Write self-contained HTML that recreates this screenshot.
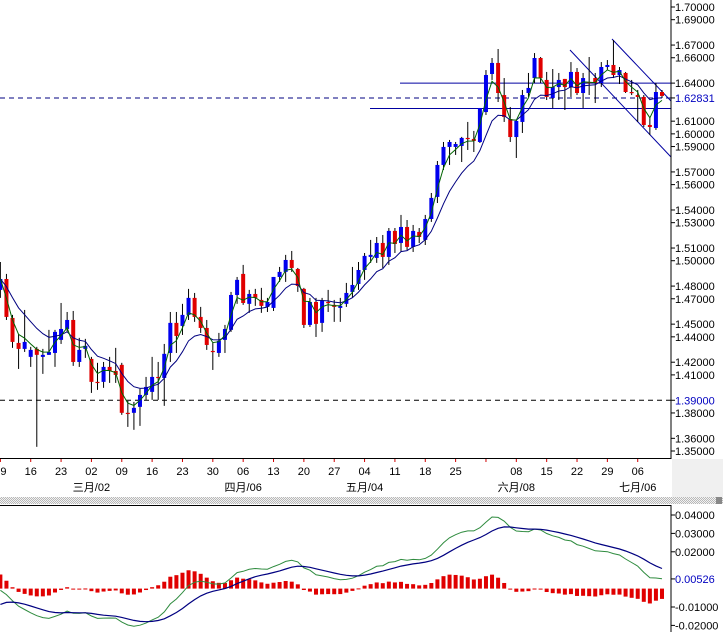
<!DOCTYPE html>
<html><head><meta charset="utf-8">
<style>
html,body{margin:0;padding:0;background:#fff;}
svg{display:block;font-family:"Liberation Sans","Noto Sans CJK SC",sans-serif;}
</style></head>
<body>
<svg id="chart" width="723" height="632" viewBox="0 0 723 632" xmlns="http://www.w3.org/2000/svg">
<defs>
<pattern id="dots" width="2" height="2" patternUnits="userSpaceOnUse">
<rect width="2" height="2" fill="#f2f2f2"/><rect width="1" height="1" fill="#b8b8b8"/><rect x="1" y="1" width="1" height="1" fill="#b8b8b8"/>
</pattern>
<clipPath id="mainClip"><rect x="0" y="0" width="671" height="458"/></clipPath>
<clipPath id="macdClip"><rect x="0" y="506" width="671" height="126"/></clipPath>
</defs>
<rect x="0" y="0" width="723" height="632" fill="#fff"/>
<g id="main" clip-path="url(#mainClip)"></g>
<g id="macd" clip-path="url(#macdClip)"></g>
<g id="axes"></g>
</svg>
<script>
const opens  =[1.4770,1.4856,1.4549,1.4352,1.4305,1.4242,1.4305,1.4242,1.4258,1.4273,1.4376,1.4462,1.4533,1.4202,1.4305,1.4226,1.4045,1.4045,1.4163,1.4131,1.4179,1.3801,1.3801,1.3848,1.3942,1.3966,1.4084,1.4076,1.4273,1.4510,1.4486,1.4573,1.4707,1.4557,1.4470,1.4289,1.4273,1.4376,1.4455,1.4730,1.4896,1.4660,1.4738,1.4691,1.4636,1.4628,1.4872,1.4912,1.5006,1.4935,1.4778,1.4494,1.4675,1.4510,1.4675,1.4652,1.4628,1.4660,1.4754,1.4817,1.4927,1.5030,1.5022,1.5140,1.5030,1.5235,1.5140,1.5266,1.5109,1.5227,1.5164,1.5329,1.5503,1.5755,1.5897,1.5897,1.5905,1.5968,1.5960,1.5936,1.6172,1.6472,1.6559,1.6306,1.6117,1.5975,1.6094,1.6322,1.6440,1.6598,1.6425,1.6283,1.6369,1.6433,1.6369,1.6488,1.6322,1.6409,1.6440,1.6401,1.6527,1.6543,1.6464,1.6480,1.6330,1.6306,1.6291,1.6070,1.6046,1.6330];
const highs  =[1.4990,1.4896,1.4573,1.4423,1.4612,1.4321,1.4321,1.4305,1.4455,1.4455,1.4667,1.4596,1.4604,1.4392,1.4384,1.4242,1.4195,1.4202,1.4242,1.4313,1.4195,1.3895,1.3887,1.3990,1.4084,1.4242,1.4202,1.4344,1.4596,1.4596,1.4660,1.4778,1.4746,1.4636,1.4533,1.4352,1.4431,1.4494,1.4754,1.4872,1.4967,1.4770,1.4778,1.4786,1.4707,1.4872,1.4951,1.5046,1.5077,1.4943,1.4786,1.4707,1.4707,1.4707,1.4770,1.4691,1.4707,1.4825,1.4951,1.4990,1.5061,1.5164,1.5187,1.5203,1.5258,1.5258,1.5361,1.5321,1.5282,1.5258,1.5361,1.5534,1.5786,1.5936,1.5952,1.5936,1.5976,1.6094,1.6023,1.6204,1.6503,1.6598,1.6669,1.6440,1.6212,1.6109,1.6346,1.6480,1.6637,1.6606,1.6488,1.6511,1.6480,1.6433,1.6566,1.6519,1.6480,1.6606,1.6480,1.6566,1.6582,1.6740,1.6527,1.6488,1.6425,1.6346,1.6306,1.6133,1.6401,1.6346];
const lows   =[1.4707,1.4533,1.4313,1.4147,1.4281,1.4163,1.3533,1.4108,1.4258,1.4163,1.4344,1.4439,1.4171,1.4163,1.4234,1.3958,1.3982,1.3998,1.4037,1.4037,1.3785,1.3690,1.3667,1.3698,1.3903,1.3903,1.3903,1.3856,1.4202,1.4273,1.4415,1.4533,1.4518,1.4431,1.4297,1.4139,1.4242,1.4273,1.4439,1.4660,1.4652,1.4589,1.4644,1.4589,1.4596,1.4604,1.4833,1.4833,1.4912,1.4754,1.4470,1.4478,1.4399,1.4439,1.4596,1.4518,1.4518,1.4636,1.4707,1.4770,1.4849,1.4983,1.4983,1.4943,1.4967,1.5061,1.5069,1.5085,1.5069,1.5140,1.5124,1.5306,1.5455,1.5715,1.5755,1.5834,1.5778,1.5873,1.5857,1.5928,1.6149,1.6425,1.6251,1.6094,1.5936,1.5810,1.6007,1.6291,1.6401,1.6401,1.6267,1.6204,1.6267,1.6188,1.6291,1.6306,1.6204,1.6306,1.6243,1.6369,1.6503,1.6440,1.6393,1.6322,1.6306,1.6094,1.6054,1.5991,1.6031,1.6283];
const closes =[1.4856,1.4557,1.4360,1.4305,1.4360,1.4297,1.4258,1.4258,1.4281,1.4439,1.4462,1.4533,1.4202,1.4297,1.4329,1.4045,1.4037,1.4163,1.4131,1.4100,1.3801,1.3797,1.3840,1.3942,1.4005,1.4084,1.4076,1.4266,1.4510,1.4407,1.4573,1.4707,1.4557,1.4470,1.4336,1.4281,1.4368,1.4462,1.4730,1.4849,1.4667,1.4738,1.4707,1.4644,1.4675,1.4872,1.4912,1.5006,1.4943,1.4801,1.4494,1.4675,1.4502,1.4683,1.4671,1.4636,1.4644,1.4746,1.4809,1.4927,1.5038,1.5046,1.5140,1.5030,1.5235,1.5132,1.5266,1.5109,1.5235,1.5187,1.5329,1.5495,1.5755,1.5897,1.5936,1.5920,1.5968,1.5964,1.5944,1.6204,1.6464,1.6559,1.6322,1.6133,1.5975,1.6102,1.6306,1.6362,1.6598,1.6440,1.6291,1.6369,1.6425,1.6369,1.6488,1.6322,1.6440,1.6405,1.6401,1.6527,1.6543,1.6464,1.6503,1.6330,1.6326,1.6291,1.6070,1.6054,1.6330,1.6299];
const priceTicks=[1.70,1.69,1.67,1.66,1.64,1.61,1.60,1.59,1.57,1.56,1.54,1.53,1.51,1.50,1.48,1.47,1.45,1.44,1.42,1.41,1.38,1.36,1.35];
const markedPrices=[1.62831,1.39];
const supportLevels=[1.64,1.62];
const weekLabels=["09","16","23","02","09","16","23","30","06","13","20","27","04","11","18","25","","08","15","22","29","06"];
const monthLabels=["三月/02","四月/06","五月/04","六月/08","七月/06"];
const monthIdx=[15,40,60,85,105];
const macdTicks=[0.04,0.03,0.02,-0.01,-0.02];
const macdMarked=[0.00526];
const macdStart=[-0.001];
const signalStart=[-0.0105];

const NS="http://www.w3.org/2000/svg";
const N=closes.length, STEP=6.07, LASTX=662, AXX=671;
function xs(i){return LASTX-(N-1-i)*STEP;}
function ys(p){return 7+(1.70-p)*1268.6;}
function ym(v){return 588.6-v*1840;}
function el(tag,attrs,parent){const e=document.createElementNS(NS,tag);for(const k in attrs)e.setAttribute(k,attrs[k]);parent.appendChild(e);return e;}
function ema(arr,n,seed){const a=2/(n+1);const out=[];let v=(seed===undefined)?arr[0]:seed;for(let i=0;i<arr.length;i++){v=(i||seed!==undefined)?v+a*(arr[i]-v):arr[i];out.push(v);}return out;}
function pathOf(vals,f){return vals.map((v,i)=>(i?"L":"M")+xs(i).toFixed(1)+" "+f(v).toFixed(1)).join("");}

const main=document.getElementById("main"), macdG=document.getElementById("macd"), axes=document.getElementById("axes");

let l;
l=el("line",{x1:0,x2:AXX,y1:ys(markedPrices[0]),y2:ys(markedPrices[0]),stroke:"#000080","stroke-width":1,"stroke-dasharray":"5,4"},main);

l=el("line",{x1:0,x2:AXX,y1:ys(markedPrices[1]),y2:ys(markedPrices[1]),stroke:"#000","stroke-width":1,"stroke-dasharray":"5,4"},main);

l=el("line",{x1:400,x2:AXX,y1:ys(supportLevels[0]),y2:ys(supportLevels[0]),stroke:"#0000a0","stroke-width":1},main);

l=el("line",{x1:370,x2:AXX,y1:ys(supportLevels[1]),y2:ys(supportLevels[1]),stroke:"#0000a0","stroke-width":1},main);

l=el("line",{x1:570,y1:50,x2:AXX,y2:157,stroke:"#0000a0","stroke-width":1},main);

l=el("line",{x1:612,y1:39,x2:AXX,y2:101,stroke:"#0000a0","stroke-width":1},main);


for(let i=0;i<N;i++){
  const x=xs(i), up=closes[i]>=opens[i];
  const g=el("g",{},main);
  
  
  el("line",{x1:x,x2:x,y1:ys(highs[i]),y2:ys(lows[i]),stroke:"#000","stroke-width":1},g);
  const t=ys(Math.max(opens[i],closes[i])), b=ys(Math.min(opens[i],closes[i]));
  el("rect",{x:x-2,y:t,width:4,height:Math.max(1.2,b-t),fill:up?"#0000ee":"#e00000"},g);
}
const maFast=ema(closes,3), maSlow=ema(closes,9);
l=el("path",{d:pathOf(maSlow,ys),fill:"none",stroke:"#000080","stroke-width":1},main);

l=el("path",{d:pathOf(maFast,ys),fill:"none",stroke:"#006400","stroke-width":1},main);


const e12=ema(closes,12,closes[0]), e26=ema(closes,26,closes[0]-macdStart[0]);
const macdLine=closes.map((c,i)=>e12[i]-e26[i]);
const signal=ema(macdLine,9,signalStart[0]);
for(let i=0;i<N;i++){
  const v=macdLine[i]-signal[i]; const y0=ym(0), y1=ym(v);
  const r=el("rect",{x:xs(i)-2,y:Math.min(y0,y1),width:4,height:Math.max(1,Math.abs(y1-y0)),fill:"#e00000"},macdG);
  
  
}
l=el("path",{d:pathOf(macdLine,ym),fill:"none",stroke:"#2e8b3e","stroke-width":1},macdG);

l=el("path",{d:pathOf(signal,ym),fill:"none",stroke:"#000080","stroke-width":1.2},macdG);


l=el("rect",{x:AXX+1,y:459,width:52,height:38,fill:"#f0f0f0"},axes);

l=el("rect",{x:0,y:497,width:723,height:7,fill:"url(#dots)"},axes);

l=el("rect",{x:716,y:497,width:6,height:7,fill:"#888"},axes);

l=el("line",{x1:AXX,x2:AXX,y1:0,y2:459,stroke:"#000","stroke-width":1},axes);

l=el("line",{x1:0,x2:AXX,y1:458.5,y2:458.5,stroke:"#000","stroke-width":1},axes);

l=el("line",{x1:0,x2:AXX,y1:505.5,y2:505.5,stroke:"#000","stroke-width":1},axes);

l=el("line",{x1:AXX,x2:AXX,y1:505,y2:632,stroke:"#000","stroke-width":1},axes);


function yLabel(v,y,color,name){
  el("line",{x1:AXX,x2:AXX+4,y1:y,y2:y,stroke:"#000"},axes);
  const t=el("text",{x:AXX+4,y:y+4,"font-size":11,fill:color},axes);
  t.textContent=v;
  
  
}
priceTicks.forEach(p=>yLabel(p.toFixed(5),ys(p),"#000","price-tick-label"));
yLabel(markedPrices[0].toFixed(5),ys(markedPrices[0]),"#0000c0","current-price-label");
yLabel(markedPrices[1].toFixed(5),ys(markedPrices[1]),"#0000c0","marked-price-label");
macdTicks.forEach(v=>yLabel(v.toFixed(5),ym(v),"#000","macd-tick-label"));
macdMarked.forEach(v=>yLabel(v.toFixed(5),ym(v),"#0000c0","macd-value-label"));

weekLabels.forEach((s,k)=>{
  const x=xs(k*5);
  el("line",{x1:x,x2:x,y1:459,y2:462,stroke:"#d00000"},axes);
  if(!s) return;
  const t=el("text",{x:x,y:475,"font-size":11,"text-anchor":"middle",fill:"#000"},axes);
  t.textContent=s;
  
  
});
monthLabels.forEach((s,k)=>{
  const t=el("text",{x:xs(monthIdx[k]),y:491,"font-size":11,"text-anchor":"middle",fill:"#000"},axes);
  t.textContent=s;
  
  
});
</script>
</body></html>
